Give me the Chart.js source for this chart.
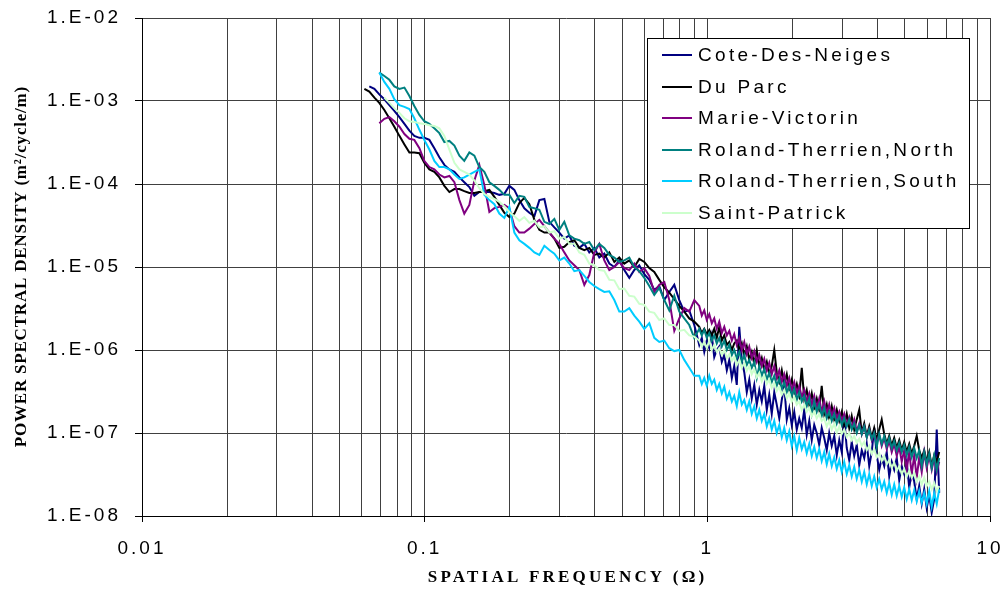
<!DOCTYPE html>
<html>
<head>
<meta charset="utf-8">
<script src="https://cdn.jsdelivr.net/npm/chart.js@4.4.1/dist/chart.umd.min.js"></script>
<style>
html,body{margin:0;padding:0;background:#fff;}
#wrap{width:1003px;height:592px;position:relative;}
</style>
</head>
<body>
<div id="wrap"><canvas id="c" width="1003" height="592"></canvas></div>
<script>
// ---- data ----
const frequency = [
0.0612,0.0637,0.0664,0.0691,0.0720,0.0750,0.0781,0.0814,0.0848,0.0883,
0.0919,0.0958,0.0997,0.1039,0.1082,0.1127,0.1174,0.1223,0.1274,0.1327,
0.1381,0.1439,0.1499,0.1561,0.1626,0.1694,0.1764,0.1837,0.1914,0.1993,
0.2076,0.2162,0.2252,0.2346,0.2444,0.2545,0.2651,0.2761,0.2876,0.2995,
0.3119,0.3249,0.3384,0.3524,0.3671,0.3823,0.3982,0.4148,0.4320,0.4500,
0.4687,0.4881,0.5084,0.5296,0.5516,0.5745,0.5984,0.6232,0.6491,0.6761,
0.7042,0.7335,0.7640,0.7957,0.8288,0.8632,0.8991,
0.9365,0.9558,0.9754,0.9955,1.016,1.037,1.058,1.080,1.102,1.125,
1.148,1.172,1.196,1.221,1.245,1.271,1.297,1.324,1.351,1.379,
1.407,1.436,1.466,1.496,1.527,1.558,1.590,1.623,1.656,1.690,
1.725,1.760,1.797,1.834,1.871,1.910,1.949,1.989,2.030,2.072,
2.114,2.158,2.202,2.247,2.294,2.341,2.389,2.438,2.488,2.539,
2.592,2.645,2.699,2.755,2.812,2.870,2.929,2.989,3.050,3.113,
3.177,3.242,3.309,3.377,3.447,3.518,3.590,3.664,3.739,3.816,
3.894,3.974,4.056,4.139,4.225,4.312,4.400,4.491,4.583,4.677,
4.774,4.872,4.972,5.074,5.179,5.286,5.394,5.505,5.618,5.734,
5.852,5.972,6.095,6.220,6.348,6.479,6.612];

const coteDesNeiges = [
null,1.5e-3,1.4e-3,1.2e-3,1.05e-3,8.9e-4,7.6e-4,6.4e-4,5.3e-4,4.4e-4,
3.8e-4,3.6e-4,3.6e-4,3.4e-4,2.7e-4,2.1e-4,1.7e-4,1.5e-4,1.4e-4,1.2e-4,
1.05e-4,9.2e-5,7.2e-5,8.0e-5,8.0e-5,8.0e-5,7.8e-5,7.4e-5,7.6e-5,9.5e-5,
8.5e-5,6.4e-5,5.1e-5,4.5e-5,4.1e-5,6.4e-5,6.6e-5,3.5e-5,3.0e-5,2.6e-5,
2.2e-5,2.4e-5,1.8e-5,1.7e-5,1.9e-5,1.5e-5,1.7e-5,1.3e-5,1.45e-5,1.1e-5,
1.0e-5,1.2e-5,9.2e-6,7.4e-6,9.2e-6,1.05e-5,8.2e-6,7.0e-6,5.3e-6,5.9e-6,
4.0e-6,5.0e-6,6.1e-6,4.0e-6,2.9e-6,3.0e-6,2.0e-6,
1.15e-6,1.4e-6,9.5e-7,1.3e-6,1.05e-6,1.5e-6,8.2e-7,1.0e-6,1.1e-6,7.2e-7,
8.7e-7,5.7e-7,7.6e-7,4.6e-7,6.4e-7,3.8e-7,1.9e-6,7.6e-7,5.4e-7,3.1e-7,
4.4e-7,2.6e-7,3.8e-7,2.2e-7,3.3e-7,2.4e-7,3.7e-7,1.9e-7,2.9e-7,1.7e-7,
3.1e-7,2.2e-7,1.5e-7,2.5e-7,3.8e-7,1.45e-7,2.0e-7,1.25e-7,1.8e-7,1.1e-7,
1.5e-7,1.15e-7,1.9e-7,9.5e-8,1.4e-7,8.2e-8,1.25e-7,1.0e-7,7.2e-8,1.15e-7,
8.7e-8,6.2e-8,1.0e-7,7.0e-8,9.2e-8,5.4e-8,8.2e-8,5.9e-8,1.5e-7,6.6e-8,
4.7e-8,7.8e-8,5.3e-8,7.2e-8,4.1e-8,6.2e-8,5.0e-8,7.4e-8,4.0e-8,5.9e-8,
1.15e-7,5.4e-8,3.6e-8,5.0e-8,4.0e-8,5.9e-8,3.0e-8,4.5e-8,3.6e-8,5.0e-8,
2.7e-8,4.0e-8,3.2e-8,4.5e-8,2.2e-8,3.4e-8,2.6e-8,1.6e-8,2.3e-8,1.4e-8,
2.1e-8,1.25e-8,1.8e-8,1.1e-8,1.6e-8,1.1e-7,1.9e-8];

const duParc = [
1.4e-3,1.3e-3,1.1e-3,9.5e-4,7.8e-4,6.2e-4,4.9e-4,3.8e-4,3.0e-4,2.4e-4,
2.4e-4,2.35e-4,1.8e-4,1.5e-4,1.4e-4,1.2e-4,9.5e-5,8.0e-5,8.7e-5,8.7e-5,
8.2e-5,7.8e-5,7.8e-5,8.0e-5,8.2e-5,8.5e-5,7.0e-5,5.6e-5,4.5e-5,4.0e-5,
4.4e-5,5.9e-5,6.8e-5,5.7e-5,3.7e-5,2.8e-5,2.6e-5,2.6e-5,2.2e-5,1.7e-5,
1.75e-5,2.0e-5,2.1e-5,1.7e-5,1.6e-5,1.7e-5,1.4e-5,1.45e-5,1.3e-5,1.5e-5,
1.15e-5,1.3e-5,1.1e-5,1.2e-5,1.0e-5,1.25e-5,1.15e-5,9.7e-6,8.7e-6,7.0e-6,
5.7e-6,4.9e-6,4.1e-6,3.4e-6,2.9e-6,2.4e-6,2.2e-6,
1.9e-6,1.6e-6,1.8e-6,1.55e-6,1.75e-6,1.5e-6,1.8e-6,1.4e-6,1.9e-6,1.3e-6,
1.5e-6,1.15e-6,1.25e-6,1.0e-6,1.2e-6,1.3e-6,1.0e-6,1.2e-6,8.5e-7,1.1e-6,
7.6e-7,9.5e-7,6.8e-7,1.0e-6,6.4e-7,8.0e-7,5.7e-7,7.2e-7,5.1e-7,6.4e-7,
1.0e-6,5.4e-7,4.1e-7,5.7e-7,3.9e-7,5.1e-7,3.4e-7,4.4e-7,3.1e-7,3.9e-7,
2.8e-7,6.1e-7,2.6e-7,3.3e-7,2.2e-7,3.0e-7,2.0e-7,2.6e-7,1.9e-7,3.7e-7,
1.7e-7,2.2e-7,1.5e-7,2.1e-7,1.45e-7,1.9e-7,1.4e-7,1.8e-7,1.25e-7,1.7e-7,
1.15e-7,1.6e-7,1.1e-7,1.45e-7,1.9e-7,1.0e-7,1.3e-7,9.2e-8,1.2e-7,8.7e-8,
1.15e-7,8.2e-8,1.1e-7,1.45e-7,9.7e-8,7.4e-8,9.2e-8,7.0e-8,8.7e-8,6.6e-8,
8.2e-8,6.2e-8,7.8e-8,5.9e-8,7.4e-8,5.6e-8,7.0e-8,9.2e-8,6.2e-8,5.0e-8,
6.2e-8,4.5e-8,5.9e-8,4.0e-8,5.4e-8,4.5e-8,5.9e-8];

const marieVictorin = [
null,null,null,5.4e-4,6.1e-4,6.4e-4,5.7e-4,4.9e-4,4.0e-4,3.5e-4,
3.4e-4,2.7e-4,1.9e-4,1.6e-4,1.5e-4,1.3e-4,1.2e-4,1.25e-4,1.05e-4,6.4e-5,
4.4e-5,5.6e-5,1.1e-4,1.7e-4,9.7e-5,4.6e-5,5.1e-5,5.3e-5,5.6e-5,5.1e-5,
3.1e-5,2.6e-5,2.6e-5,2.9e-5,3.3e-5,3.7e-5,3.1e-5,2.6e-5,2.2e-5,1.9e-5,
1.5e-5,1.2e-5,1.05e-5,9.2e-6,6.1e-6,8.0e-6,1.5e-5,1.9e-5,1.2e-5,9.2e-6,
1.0e-5,1.15e-5,9.7e-6,9.2e-6,1.1e-5,8.7e-6,9.7e-6,7.8e-6,5.0e-6,6.1e-6,
6.6e-6,4.0e-6,1.7e-6,2.4e-6,3.2e-6,2.9e-6,4.0e-6,
3.4e-6,2.6e-6,3.0e-6,2.3e-6,2.7e-6,2.1e-6,2.4e-6,1.8e-6,2.2e-6,1.6e-6,
1.9e-6,1.5e-6,1.7e-6,1.3e-6,1.55e-6,1.15e-6,1.4e-6,1.0e-6,1.25e-6,8.9e-7,
1.1e-6,8.0e-7,9.7e-7,7.2e-7,8.7e-7,6.4e-7,7.8e-7,5.7e-7,7.0e-7,5.1e-7,
6.4e-7,4.6e-7,5.7e-7,4.1e-7,5.1e-7,3.7e-7,4.6e-7,3.3e-7,4.1e-7,3.0e-7,
3.7e-7,2.7e-7,3.3e-7,2.4e-7,3.0e-7,2.2e-7,2.8e-7,2.0e-7,2.6e-7,1.8e-7,
2.4e-7,1.7e-7,2.2e-7,1.6e-7,2.0e-7,1.5e-7,1.8e-7,1.4e-7,1.7e-7,1.25e-7,
1.55e-7,1.15e-7,1.45e-7,1.05e-7,1.3e-7,9.7e-8,1.2e-7,8.9e-8,1.1e-7,8.2e-8,
1.0e-7,7.6e-8,9.5e-8,7.0e-8,8.7e-8,6.4e-8,8.0e-8,5.9e-8,7.4e-8,5.3e-8,
6.8e-8,4.5e-8,6.2e-8,3.6e-8,5.9e-8,3.2e-8,5.4e-8,2.9e-8,5.1e-8,3.4e-8,
5.9e-8,3.8e-8,5.3e-8,3.6e-8,5.0e-8,3.4e-8,4.5e-8];

const rolandTherrienNorth = [
null,null,null,2.2e-3,2.0e-3,1.8e-3,1.5e-3,1.4e-3,1.45e-3,1.15e-3,
8.7e-4,6.8e-4,5.7e-4,5.3e-4,4.7e-4,4.1e-4,3.2e-4,3.3e-4,2.9e-4,2.2e-4,
1.9e-4,2.4e-4,2.2e-4,1.6e-4,1.4e-4,1.05e-4,9.5e-5,8.5e-5,7.4e-5,7.4e-5,
5.9e-5,7.2e-5,7.0e-5,5.3e-5,5.1e-5,4.9e-5,3.5e-5,3.3e-5,3.8e-5,2.8e-5,
3.5e-5,2.4e-5,2.2e-5,2.1e-5,1.9e-5,2.0e-5,1.6e-5,1.9e-5,1.7e-5,1.4e-5,
1.3e-5,1.15e-5,1.2e-5,1.3e-5,1.0e-5,8.9e-6,7.4e-6,5.9e-6,4.6e-6,5.6e-6,
4.0e-6,3.0e-6,4.5e-6,2.9e-6,2.4e-6,2.0e-6,1.4e-6,
1.8e-6,1.5e-6,1.75e-6,1.4e-6,1.6e-6,1.3e-6,1.5e-6,1.2e-6,1.4e-6,1.1e-6,
1.3e-6,1.0e-6,1.15e-6,8.7e-7,1.0e-6,8.0e-7,9.5e-7,7.2e-7,8.7e-7,6.6e-7,
7.6e-7,6.1e-7,7.2e-7,4.6e-7,6.4e-7,4.9e-7,5.9e-7,4.4e-7,5.3e-7,4.1e-7,
4.9e-7,3.7e-7,4.5e-7,3.4e-7,4.1e-7,3.1e-7,3.7e-7,2.8e-7,3.4e-7,2.5e-7,
3.1e-7,2.4e-7,2.8e-7,2.1e-7,2.6e-7,1.7e-7,2.4e-7,1.8e-7,2.2e-7,1.6e-7,
2.0e-7,1.5e-7,1.8e-7,1.4e-7,1.7e-7,1.3e-7,1.6e-7,1.25e-7,1.5e-7,1.2e-7,
1.45e-7,1.1e-7,1.3e-7,1.0e-7,1.25e-7,9.7e-8,1.2e-7,8.9e-8,1.1e-7,8.5e-8,
1.0e-7,6.8e-8,9.7e-8,7.4e-8,9.2e-8,7.0e-8,8.7e-8,6.6e-8,8.0e-8,6.2e-8,
7.6e-8,5.9e-8,7.2e-8,5.4e-8,6.8e-8,5.1e-8,6.6e-8,5.0e-8,6.2e-8,4.0e-8,
5.9e-8,4.2e-8,5.6e-8,3.8e-8,5.4e-8,3.6e-8,5.0e-8];

const rolandTherrienSouth = [
null,null,null,2.2e-3,1.7e-3,1.4e-3,1.05e-3,8.9e-4,8.5e-4,8.0e-4,
6.2e-4,4.5e-4,3.4e-4,2.6e-4,1.9e-4,1.6e-4,1.6e-4,1.5e-4,1.3e-4,1.15e-4,
1.2e-4,1.3e-4,1.4e-4,1.5e-4,7.4e-5,6.4e-5,5.7e-5,4.4e-5,3.9e-5,5.3e-5,
2.6e-5,2.1e-5,1.9e-5,1.7e-5,1.5e-5,1.4e-5,1.8e-5,1.6e-5,1.45e-5,1.2e-5,
1.3e-5,1.1e-5,8.9e-6,9.2e-6,7.8e-6,6.6e-6,5.9e-6,5.4e-6,5.0e-6,5.1e-6,
4.0e-6,2.9e-6,2.9e-6,3.2e-6,2.6e-6,2.2e-6,1.8e-6,2.1e-6,1.4e-6,1.25e-6,
1.3e-6,1.05e-6,9.7e-7,1.0e-6,7.6e-7,6.1e-7,4.9e-7,
4.9e-7,3.9e-7,4.6e-7,3.7e-7,4.9e-7,3.9e-7,4.4e-7,3.3e-7,3.9e-7,3.0e-7,
3.6e-7,2.6e-7,3.1e-7,2.4e-7,2.8e-7,2.1e-7,3.1e-7,2.2e-7,2.5e-7,1.9e-7,
2.4e-7,1.7e-7,2.1e-7,1.5e-7,1.9e-7,1.4e-7,1.7e-7,1.2e-7,1.5e-7,1.1e-7,
1.4e-7,1.0e-7,1.25e-7,8.9e-8,1.15e-7,8.2e-8,1.05e-7,7.0e-8,9.2e-8,6.2e-8,
8.7e-8,6.4e-8,7.8e-8,5.7e-8,7.4e-8,5.3e-8,6.8e-8,5.0e-8,6.4e-8,4.6e-8,
5.9e-8,4.2e-8,5.6e-8,4.0e-8,5.1e-8,3.7e-8,4.7e-8,3.4e-8,4.5e-8,3.2e-8,
4.1e-8,3.0e-8,3.9e-8,2.8e-8,3.6e-8,2.6e-8,3.4e-8,2.4e-8,3.2e-8,2.3e-8,
3.0e-8,2.2e-8,2.8e-8,2.1e-8,2.6e-8,1.9e-8,2.5e-8,1.8e-8,2.4e-8,1.75e-8,
2.3e-8,1.7e-8,2.2e-8,1.6e-8,2.1e-8,1.55e-8,2.05e-8,1.5e-8,2.0e-8,1.45e-8,
1.9e-8,1.4e-8,2.0e-8,1.3e-8,1.9e-8,1.4e-8,2.1e-8];

const saintPatrick = [
null,null,null,null,1.1e-3,9.5e-4,8.2e-4,7.2e-4,6.2e-4,5.7e-4,
5.6e-4,5.4e-4,5.3e-4,5.1e-4,5.0e-4,4.7e-4,3.8e-4,2.6e-4,1.8e-4,1.5e-4,
1.4e-4,1.3e-4,1.1e-4,8.9e-5,7.6e-5,7.0e-5,6.6e-5,6.1e-5,5.4e-5,4.6e-5,
4.1e-5,3.6e-5,4.0e-5,3.4e-5,3.6e-5,3.0e-5,3.1e-5,2.6e-5,2.7e-5,2.2e-5,
2.3e-5,1.9e-5,1.9e-5,1.5e-5,1.4e-5,1.1e-5,1.05e-5,9.2e-6,9.0e-6,7.0e-6,
6.9e-6,5.4e-6,5.5e-6,4.5e-6,4.4e-6,3.6e-6,3.5e-6,2.9e-6,2.8e-6,2.3e-6,
2.4e-6,2.0e-6,2.0e-6,1.7e-6,1.75e-6,1.5e-6,1.45e-6,
1.3e-6,1.1e-6,1.25e-6,1.05e-6,1.3e-6,1.0e-6,1.15e-6,9.5e-7,1.05e-6,8.7e-7,
1.0e-6,8.0e-7,8.9e-7,7.4e-7,8.2e-7,6.6e-7,7.6e-7,6.1e-7,7.0e-7,5.6e-7,
6.4e-7,5.1e-7,5.9e-7,4.7e-7,5.3e-7,4.2e-7,4.9e-7,3.9e-7,4.4e-7,3.5e-7,
4.0e-7,3.2e-7,3.6e-7,2.9e-7,3.3e-7,2.6e-7,3.0e-7,2.4e-7,2.7e-7,2.2e-7,
2.4e-7,1.9e-7,2.2e-7,1.8e-7,2.0e-7,1.6e-7,1.8e-7,1.5e-7,1.7e-7,1.4e-7,
1.5e-7,1.2e-7,1.4e-7,1.1e-7,1.3e-7,1.0e-7,1.2e-7,9.7e-8,1.1e-7,8.9e-8,
1.0e-7,8.2e-8,9.2e-8,7.6e-8,8.5e-8,7.0e-8,7.8e-8,6.2e-8,7.0e-8,5.6e-8,
6.4e-8,5.1e-8,5.7e-8,4.6e-8,5.3e-8,4.2e-8,4.7e-8,3.8e-8,4.4e-8,3.5e-8,
4.0e-8,3.2e-8,3.7e-8,3.0e-8,3.5e-8,2.9e-8,3.3e-8,2.6e-8,3.0e-8,2.4e-8,
2.9e-8,2.3e-8,2.6e-8,2.1e-8,2.5e-8,2.0e-8,2.3e-8];

const seriesNames = ['Cote-Des-Neiges','Du Parc','Marie-Victorin','Roland-Therrien,North','Roland-Therrien,South','Saint-Patrick'];
const seriesColors = ['#000080','#000000','#800080','#008080','#00CCFF','#CCFFCC'];
const seriesValues = [coteDesNeiges, duParc, marieVictorin, rolandTherrienNorth, rolandTherrienSouth, saintPatrick];

const xTickValues = [0.01, 0.1, 1, 10];
const xTickLabels = ['0.01', '0.1', '1', '10'];
const xGridValues = [0.01,0.02,0.03,0.04,0.05,0.06,0.07,0.08,0.09,
                     0.1,0.2,0.3,0.4,0.5,0.6,0.7,0.8,0.9,
                     1,2,3,4,5,6,7,8,9,10];
const yTickValues = [1e-8, 1e-7, 1e-6, 1e-5, 1e-4, 1e-3, 1e-2];
const yTickLabels = ['1.E-08','1.E-07','1.E-06','1.E-05','1.E-04','1.E-03','1.E-02'];

const xAxisTitle = 'SPATIAL FREQUENCY (\u03A9)';
const yAxisTitle = 'POWER SPECTRAL DENSITY (m\u00B2/cycle/m)';

// ---- chart ----
function findIdx(list, v) {
  return list.findIndex(d => Math.abs(d - v) <= Math.abs(d) * 1e-9);
}

const datasets = seriesNames.map((name, i) => ({
  label: name,
  data: frequency.map((f, j) => (seriesValues[i][j] == null) ? null : { x: f, y: seriesValues[i][j] }).filter(p => p !== null),
  borderColor: seriesColors[i],
  backgroundColor: seriesColors[i],
  borderWidth: 2,
  pointRadius: 0,
  tension: 0,
  fill: false,
  order: seriesNames.length - i
}));

const sansFont = '"Liberation Sans", Arial, sans-serif';
const serifFont = '"Liberation Serif", "Times New Roman", serif';

const decorPlugin = {
  id: 'decor',
  beforeDraw(chart) {
    const ctx = chart.ctx;
    ctx.save();
    ctx.fillStyle = '#fff';
    ctx.fillRect(0, 0, chart.width, chart.height);
    ctx.restore();
    ctx.letterSpacing = '3px';
  },
  afterDraw(chart) {
    const ctx = chart.ctx;
    const area = chart.chartArea;
    ctx.save();
    // legend box
    const bx = 647, by = 38, bw = 322, bh = 190;
    ctx.fillStyle = '#fff';
    ctx.fillRect(bx, by, bw, bh);
    ctx.strokeStyle = '#000';
    ctx.lineWidth = 1;
    ctx.strokeRect(bx + 0.5, by + 0.5, bw, bh);
    ctx.font = '19px ' + sansFont;
    ctx.letterSpacing = '3.3px';
    ctx.textBaseline = 'middle';
    ctx.textAlign = 'left';
    chart.data.datasets.forEach((ds, i) => {
      const y = Math.round(55 + i * 31.6);
      ctx.strokeStyle = ds.borderColor;
      ctx.lineWidth = 2;
      ctx.beginPath();
      ctx.moveTo(662, y);
      ctx.lineTo(692, y);
      ctx.stroke();
      ctx.fillStyle = '#000';
      ctx.fillText(ds.label, 698, y + 1);
    });
    // axis titles
    ctx.fillStyle = '#000';
    ctx.font = 'bold 17px ' + serifFont;
    ctx.letterSpacing = '3.2px';
    ctx.textAlign = 'center';
    ctx.textBaseline = 'middle';
    ctx.fillText(xAxisTitle, (area.left + area.right) / 2 + 1.6, 578);
    ctx.translate(22, (area.top + area.bottom) / 2);
    ctx.rotate(-Math.PI / 2);
    ctx.letterSpacing = '0.8px';
    ctx.fillText(yAxisTitle, 0.4, 0);
    ctx.restore();
  }
};

new Chart(document.getElementById('c'), {
  type: 'line',
  data: { datasets },
  options: {
    responsive: false,
    devicePixelRatio: 1,
    animation: false,
    layout: { padding: { left: 0, right: 13, top: 18, bottom: 0 } },
    plugins: { legend: { display: false }, tooltip: { enabled: false }, title: { display: false } },
    scales: {
      x: {
        type: 'logarithmic',
        min: 0.01, max: 10,
        afterBuildTicks: s => { s.ticks = xGridValues.map(v => ({ value: v })); },
        afterFit: s => { s.height = 76; s.paddingLeft = 0; s.paddingRight = 0; },
        ticks: {
          autoSkip: false, maxRotation: 0, minRotation: 0, padding: 15,
          color: '#000', font: { family: sansFont, size: 19 },
          callback: v => { const k = findIdx(xTickValues, v); return k >= 0 ? xTickLabels[k] : ''; }
        },
        grid: {
          color: '#404040', lineWidth: 1, drawTicks: true, tickLength: 6,
          tickColor: c => (c.tick && findIdx(xTickValues, c.tick.value) >= 0) ? '#000' : 'rgba(0,0,0,0)'
        },
        border: { color: '#000', width: 1 },
        title: { display: false }
      },
      y: {
        type: 'logarithmic',
        min: 1e-8, max: 1e-2,
        afterBuildTicks: s => { s.ticks = yTickValues.map(v => ({ value: v })); },
        afterFit: s => { s.width = 142; s.paddingTop = 0; s.paddingBottom = 0; },
        ticks: {
          autoSkip: false, padding: 14,
          color: '#000', font: { family: sansFont, size: 19 },
          callback: v => { const k = findIdx(yTickValues, v); return k >= 0 ? yTickLabels[k] : ''; }
        },
        grid: { color: '#404040', lineWidth: 1, drawTicks: true, tickLength: 7, tickColor: '#000' },
        border: { color: '#000', width: 1 },
        title: { display: false }
      }
    }
  },
  plugins: [decorPlugin]
});
</script>
</body>
</html>
